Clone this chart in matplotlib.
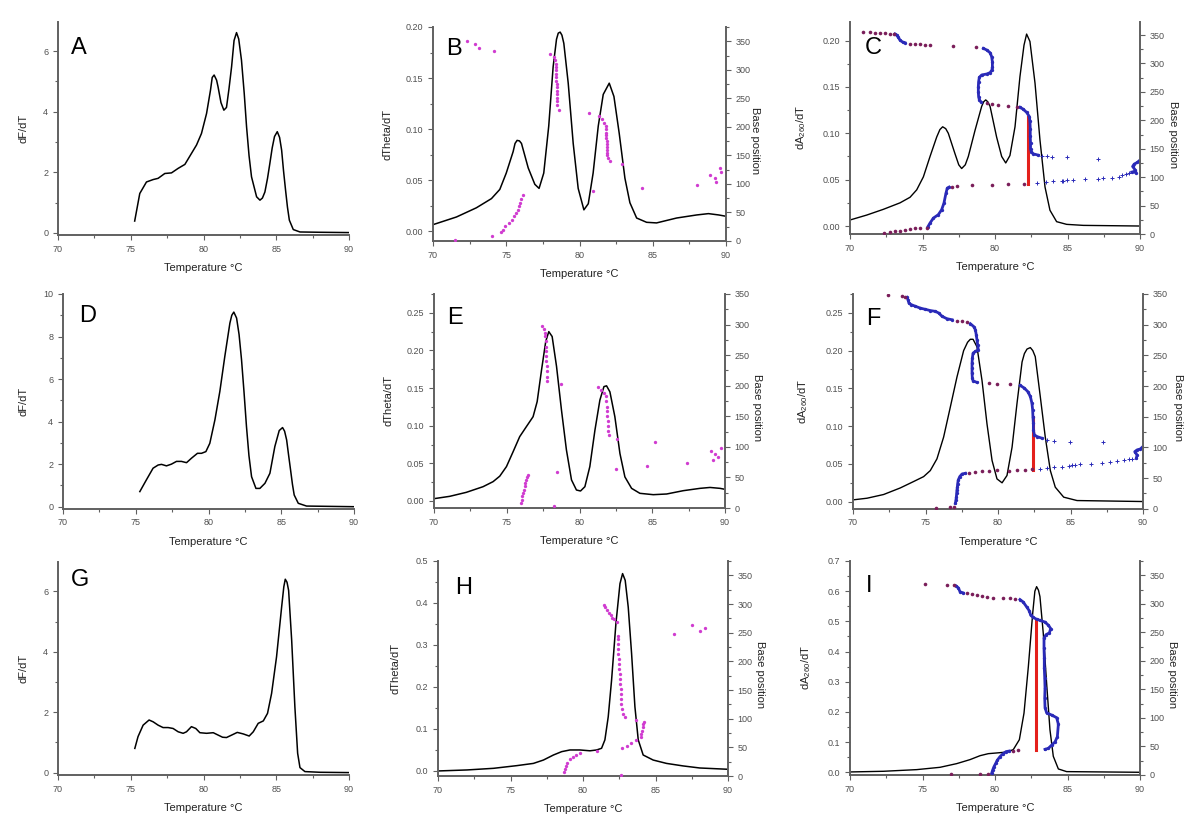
import numpy as np
import matplotlib
matplotlib.use('Agg')
import matplotlib.pyplot as plt
from matplotlib.ticker import MultipleLocator

plt.rcParams['font.family'] = ['Liberation Sans', 'DejaVu Sans']
plt.rcParams['mathtext.default'] = 'regular'

NAN = np.nan

# ---------------- panel A (dF/dT) ----------------
a_temp = [75.27, 75.62, 76.08, 76.54, 76.88, 77.34, 77.80, 78.26, 78.72, 79.17, 79.52, 79.86,
          80.21, 80.48, 80.60, 80.73, 80.90, 81.00, 81.20, 81.40, 81.58, 81.75, 81.93, 82.10,
          82.27, 82.42, 82.61, 82.80, 82.96, 83.13, 83.30, 83.65, 83.88, 84.05, 84.22, 84.40,
          84.56, 84.72, 84.88, 85.07, 85.23, 85.37, 85.50, 85.64, 85.77, 85.90, 86.17, 86.63,
          88.00, 90.00]
a_dfdt = [0.39, 1.30, 1.68, 1.76, 1.80, 1.96, 1.98, 2.13, 2.26, 2.62, 2.90, 3.28,
          3.94, 4.71, 5.13, 5.21, 5.04, 4.82, 4.30, 4.05, 4.14, 4.75, 5.48, 6.35,
          6.61, 6.40, 5.70, 4.60, 3.50, 2.55, 1.85, 1.19, 1.08, 1.15, 1.35, 1.80,
          2.29, 2.80, 3.18, 3.34, 3.15, 2.73, 2.05, 1.41, 0.85, 0.42, 0.11, 0.03,
          0.02, 0.01]

# ---------------- panel B (dTheta/dT + base position) ----------------
b_temp = [70.0, 71.6, 72.96, 73.99, 74.56, 75.0, 75.47, 75.6, 75.74, 75.9, 76.04, 76.5, 76.95,
          77.24, 77.56, 77.9, 78.2, 78.43, 78.55, 78.68, 78.8, 78.93, 79.23, 79.57, 79.91,
          80.3, 80.6, 80.93, 81.28, 81.62, 82.03, 82.35, 82.71, 83.1, 83.44, 83.9, 84.58,
          85.26, 86.63, 88.0, 88.8, 89.5, 90.0]
b_dtheta = [0.0065, 0.014, 0.023, 0.032, 0.041, 0.057, 0.078, 0.086, 0.089, 0.0885, 0.086, 0.062,
            0.046, 0.042, 0.057, 0.103, 0.161, 0.188, 0.194, 0.195, 0.192, 0.184, 0.145, 0.086,
            0.042, 0.021, 0.027, 0.057, 0.103, 0.134, 0.145, 0.132, 0.096, 0.052, 0.028, 0.013,
            0.0088, 0.0082, 0.013, 0.016, 0.0173, 0.016, 0.0147]
b_dot_temp = [71.53, 72.32, 72.89, 73.17, 74.15, 74.05, 74.65, 74.76, 74.92, 75.17, 75.38, 75.54,
              75.69, 75.79, 75.88, 75.97, 75.99, 76.17, 78.00, 78.29, 78.35, 78.37, 78.39, 78.40,
              78.41, 78.42, 78.43, 78.44, 78.44, 78.45, 78.45, 78.46, 78.47, 78.49, 78.61, 80.66,
              80.89, 81.34, 81.55, 81.69, 81.78, 81.80, 81.82, 81.83, 81.84, 81.85, 81.86, 81.87,
              81.88, 81.89, 81.90, 81.96, 82.07, 82.92, 84.28, 88.04, 88.90, 89.25, 89.29, 89.59,
              89.64]
b_dot_pos = [2, 351, 345, 339, 333, 8, 15, 20, 26, 32, 37, 43,
             49, 55, 61, 67, 73, 80, 327, 322, 317, 311, 305, 299,
             293, 287, 281, 275, 269, 263, 257, 251, 245, 239, 230, 225,
             87, 219, 213, 207, 201, 196, 190, 185, 180, 175, 170, 165,
             160, 155, 150, 145, 140, 135, 93, 99, 116, 111, 104, 128,
             121]

# ---------------- panel C (dA260/dT + base position) ----------------
c_temp = [70.0, 71.15, 72.3, 73.45, 74.14, 74.6, 75.06, 75.52, 75.98, 76.2, 76.39, 76.6, 76.78,
          77.24, 77.5, 77.7, 77.95, 78.16, 78.62, 79.08, 79.22, 79.36, 79.5, 79.66, 80.11,
          80.46, 80.74, 81.03, 81.38, 81.72, 82.0, 82.18, 82.41, 82.76, 83.1, 83.45, 83.79,
          84.25, 84.94, 86.09, 90.0]
c_da = [0.0065, 0.0118, 0.018, 0.025, 0.031, 0.039, 0.053, 0.075, 0.096, 0.104, 0.107, 0.105, 0.100,
        0.078, 0.066, 0.062, 0.066, 0.075, 0.103, 0.129, 0.134, 0.136, 0.134, 0.129, 0.096,
        0.075, 0.068, 0.076, 0.107, 0.161, 0.195, 0.207, 0.199, 0.154, 0.093, 0.042, 0.017,
        0.0047, 0.0018, 0.0007, 0.0]
c_maroon_temp = [70.87, 71.38, 71.72, 72.07, 72.41, 72.76, 73.06, 74.14, 74.48, 74.83, 75.17, 75.52,
                 77.08, 78.69, 79.43, 79.77, 80.23, 80.92, 81.49, 72.34, 72.76, 73.10, 73.45, 73.79,
                 74.14, 74.48, 74.83, 75.29, 77.01, 77.36, 78.39, 79.82, 80.92, 82.00]
c_maroon_pos = [356, 355, 354, 353.5, 353, 352, 352, 335, 334, 333.6, 333, 332,
                330.7, 329, 230.4, 229, 227, 225.6, 224, 1.75, 3.5, 4.7, 5.9, 7.6,
                8.8, 10, 10.5, 11.1, 82.5, 83.7, 85.4, 86.6, 87.8, 88.4]
c_blue_temp = [73.10, 73.22, 73.33, 73.45, 73.63, 73.79, NAN,
               79.20, 79.43, 79.66, 79.77, 79.82, 79.82, 79.79, 79.66, 79.43, 79.08, 78.92, 78.87,
               78.85, 78.85, 78.87, 78.92, 79.01, NAN,
               81.72, 81.95, 82.18, 82.37, 82.41, 82.43, 82.43, 82.45, 82.45, 82.50, 82.64, 82.99, NAN,
               75.36, 75.52, 75.75, 76.09, 76.32, 76.48, 76.62, 76.71, 76.83, NAN,
               89.43, 89.66, 89.72, 89.66, 89.49, 89.60, 89.82, 89.95]
c_blue_pos = [352, 350, 346, 341, 337.7, 336.5, NAN,
              326.6, 323.7, 319, 312, 303, 294.4, 288.5, 283.9, 281.5, 279.8, 275.7, 268,
              259.3, 250.5, 241.7, 235.9, 233, NAN,
              223, 219.5, 214, 206.6, 198, 185, 172, 160, 150, 145, 141, 138.7, NAN,
              12.3, 19.3, 28, 34, 42.7, 54.4, 72, 80.8, 82.5, NAN,
              108.9, 110, 107, 113, 118.8, 123, 126, 129]
c_plus_temp = [83.26, 83.56, 83.91, 84.94, 87.13, 82.87, 83.49, 84.02, 84.60, 84.71, 84.94, 85.36,
               86.21, 87.13, 87.47, 88.05, 88.57, 88.78, 89.03, 89.26]
c_plus_pos = [137.5, 136.4, 135.2, 134.6, 132.3, 89.5, 90.7, 92.5, 93, 93.6, 94.2, 94.8,
              96.6, 97, 97.7, 98.9, 101, 103, 104.8, 107]
c_red_temp = [82.3, 82.3]
c_red_pos = [87.8, 205.4]

# ---------------- panel D ----------------
d_temp = [75.28, 75.73, 76.19, 76.54, 76.77, 77.11, 77.45, 77.8, 78.14, 78.49, 78.83, 79.24,
          79.52, 79.82, 80.09, 80.44, 80.78, 81.12, 81.47, 81.6, 81.74, 81.93, 82.1, 82.27,
          82.44, 82.61, 82.78, 82.96, 83.26, 83.53, 83.88, 84.22, 84.56, 84.86, 85.09, 85.23,
          85.37, 85.5, 85.64, 85.77, 85.89, 86.17, 86.74, 90.0]
d_dfdt = [0.71, 1.26, 1.81, 1.96, 1.99, 1.92, 2.0, 2.13, 2.13, 2.07, 2.28, 2.51,
          2.51, 2.59, 2.98, 4.08, 5.42, 7.06, 8.63, 9.0, 9.15, 8.87, 8.1, 6.91,
          5.4, 3.77, 2.4, 1.41, 0.86, 0.86, 1.1, 1.57, 2.83, 3.58, 3.72, 3.55,
          3.14, 2.45, 1.73, 1.05, 0.55, 0.16, 0.03, 0.0]

# ---------------- panel E ----------------
e_temp = [70.0, 71.08, 72.22, 73.37, 74.06, 74.52, 74.98, 75.44, 75.89, 76.35, 76.81, 77.09,
          77.39, 77.68, 77.89, 78.12, 78.42, 78.76, 79.1, 79.45, 79.79, 80.07, 80.37, 80.71,
          81.06, 81.4, 81.68, 81.86, 82.09, 82.43, 82.78, 83.12, 83.58, 84.15, 85.07, 85.99,
          87.13, 88.28, 88.97, 89.66, 90.0]
e_dtheta = [0.0031, 0.0062, 0.0115, 0.019, 0.0257, 0.033, 0.0457, 0.0656, 0.0855, 0.0988, 0.112, 0.132,
            0.174, 0.212, 0.225, 0.2185, 0.179, 0.121, 0.068, 0.028, 0.0146, 0.0133, 0.019, 0.0457,
            0.094, 0.134, 0.152, 0.153, 0.145, 0.112, 0.063, 0.032, 0.0168, 0.0102, 0.0084, 0.0093,
            0.0137, 0.0168, 0.018, 0.0168, 0.0155]
e_dot_temp = [76.01, 76.03, 76.06, 76.10, 76.17, 76.22, 76.26, 76.31, 76.38, 76.47, 78.23, 78.42,
              77.39, 77.55, 77.61, 77.66, 77.68, 77.68, 77.71, 77.73, 77.73, 77.75, 77.75, 77.77,
              77.80, 78.71, 81.26, 81.47, 81.67, 81.79, 81.83, 81.86, 81.88, 81.90, 81.93, 81.95,
              81.97, 82.02, 82.55, 82.48, 85.18, 84.61, 87.41, 89.01, 89.15, 89.31, 89.54, 89.70]
e_dot_pos = [8.2, 13.6, 19, 24.5, 30, 35.4, 41, 46, 50.7, 54, 3.8, 59,
             298, 293, 286, 281, 272.6, 264, 256, 248, 240, 232, 223.6, 215,
             208, 202.8, 198, 193.6, 188, 182.7, 174.5, 166, 158, 150, 141.8, 133.6,
             125.4, 119, 113, 63.8, 108.5, 68, 73.6, 92.7, 78.5, 88.3, 83.4, 98]

# ---------------- panel F ----------------
f_temp = [70.0, 70.97, 72.11, 73.26, 74.18, 74.87, 75.33, 75.79, 76.25, 76.71, 77.17, 77.63,
          77.9, 78.09, 78.28, 78.55, 78.9, 79.24, 79.59, 79.93, 80.28, 80.62, 80.97, 81.31,
          81.66, 81.82, 82.0, 82.23, 82.4, 82.57, 82.92, 83.26, 83.61, 83.95, 84.53, 85.45, 90.0]
f_da = [0.0022, 0.0044, 0.0093, 0.018, 0.0265, 0.033, 0.041, 0.0566, 0.0854, 0.125, 0.165, 0.2,
        0.211, 0.215, 0.215, 0.205, 0.16, 0.103, 0.0544, 0.030, 0.0248, 0.0345, 0.072, 0.13,
        0.185, 0.196, 0.202, 0.204, 0.200, 0.192, 0.1385, 0.0854, 0.041, 0.019, 0.0058, 0.0013, 0.0]
f_maroon_temp = [72.39, 73.38, 73.61, 77.17, 77.52, 77.86, 79.36, 79.93, 80.85,
                 75.75, 76.71, 76.94, 77.98, 78.44, 78.90, 79.36, 79.93, 80.74, 81.31, 81.89, 82.34]
f_maroon_pos = [347.8, 346, 345.7, 306.5, 305.4, 303.8, 204.7, 203.6, 202.5,
                1.6, 2.2, 3.3, 58.8, 59.9, 61, 61.5, 63, 61.5, 62.6, 63.7, 64.2]
f_blue_temp = [73.72, 73.79, 73.86, 74.02, 74.30, 74.64, 74.99, 75.33, 75.68, 75.91, 76.14, 76.48, 76.83, NAN,
               78.09, 78.32, 78.44, 78.50, 78.55, 78.60, 78.64, 78.44, 78.28, 78.23, 78.21, 78.21, 78.21,
               78.23, 78.28, 78.55, NAN,
               81.54, 81.82, 82.05, 82.23, 82.34, 82.39, 82.41, 82.44, 82.44, 82.51, 82.69, 83.03, NAN,
               77.06, 77.10, 77.13, 77.15, 77.17, 77.20, 77.22, 77.26, 77.36, 77.52, 77.75, NAN,
               89.54, 89.59, 89.43, 89.59, 89.82, 89.98]
f_blue_pos = [344.6, 340.8, 335, 332.6, 330, 327, 325, 323, 321.7, 319, 313.6, 309.7, 308, NAN,
              301.6, 297, 291.8, 283.6, 275.4, 267, 259, 256.4, 253.7, 245.5, 237, 229, 221,
              212.9, 208.5, 205.8, NAN,
              200.9, 196.5, 191, 183, 172, 161, 150, 139, 128.5, 120.3, 117.6, 114.9, NAN,
              8.7, 14, 19.6, 25, 30.5, 36, 41, 46.8, 52.3, 56.6, 57.7, NAN,
              82.2, 87.6, 93, 95.8, 97.4, 101]
f_plus_temp = [83.38, 83.89, 84.99, 87.22, 82.92, 83.38, 83.89, 84.41, 84.87, 85.10, 85.33, 85.63,
               86.44, 87.17, 87.70, 88.21, 88.67, 89.01, 89.24]
f_plus_pos = [112, 110, 109.4, 108.3, 64.8, 65.9, 67.5, 68.6, 69.7, 70.8, 71.9, 73,
              73.5, 75, 76.2, 77.8, 79.5, 80.6, 81.7]
f_red_temp = [82.41, 82.41]
f_red_pos = [63, 150]

# ---------------- panel G ----------------
g_temp = [75.28, 75.5, 75.85, 76.26, 76.54, 76.88, 77.22, 77.57, 77.91, 78.26, 78.6, 78.83,
          79.17, 79.47, 79.75, 80.21, 80.67, 81.01, 81.31, 81.58, 81.93, 82.32, 82.73, 83.14,
          83.42, 83.76, 84.11, 84.4, 84.68, 85.02, 85.37, 85.52, 85.62, 85.74, 85.85, 86.06,
          86.28, 86.47, 86.63, 86.97, 88.0, 90.0]
g_dfdt = [0.80, 1.19, 1.57, 1.74, 1.68, 1.57, 1.49, 1.49, 1.46, 1.35, 1.30, 1.35,
          1.52, 1.46, 1.32, 1.30, 1.32, 1.24, 1.17, 1.16, 1.24, 1.33, 1.28, 1.21,
          1.35, 1.63, 1.71, 1.96, 2.62, 3.83, 5.48, 6.15, 6.40, 6.30, 6.03, 4.38,
          2.18, 0.64, 0.165, 0.033, 0.01, 0.0]

# ---------------- panel H ----------------
h_temp = [70.0, 72.0, 73.83, 75.44, 76.58, 77.27, 77.96, 78.53, 79.1, 79.79, 80.48, 80.94,
          81.28, 81.51, 81.74, 81.97, 82.27, 82.55, 82.73, 82.91, 83.12, 83.35, 83.58, 83.81,
          84.15, 84.84, 85.76, 86.9, 88.05, 90.0]
h_dtheta = [0.0, 0.0024, 0.0063, 0.0127, 0.018, 0.026, 0.038, 0.046, 0.05, 0.05, 0.048, 0.05,
            0.054, 0.074, 0.129, 0.216, 0.351, 0.446, 0.47, 0.454, 0.39, 0.28, 0.153, 0.074,
            0.038, 0.026, 0.018, 0.012, 0.0071, 0.004]
h_dot_temp = [78.69, 78.74, 78.81, 78.92, 79.10, 79.29, 79.52, 79.79, 80.94, 82.61, 82.71, 83.01,
              83.30, 83.65, 83.97, 84.01, 84.06, 84.11, 84.17, 84.24, 83.65, 82.89, 82.73, 82.66,
              82.64, 82.61, 82.59, 82.59, 82.57, 82.55, 82.52, 82.50, 82.48, 82.45, 82.43, 82.43,
              82.41, 82.41, 82.43, 82.32, 82.15, 82.03, 81.90, 81.78, 81.66, 81.55, 81.44,
              86.28, 87.52, 88.10, 88.39]
h_dot_pos = [7.6, 11.7, 17.5, 23.4, 29.2, 33, 36.5, 40, 43.8, 1.2, 48, 52.6,
             57.3, 62.5, 67.2, 73, 79, 84.7, 90.6, 93.5, 98, 103.4, 109, 117,
             125.7, 134.4, 143, 152, 160.7, 169.5, 178, 187, 195.8, 204.6, 213.3, 222,
             231, 239.6, 243.7, 269, 273, 276, 280, 285, 290, 294, 298,
             248.4, 263, 253, 258]

# ---------------- panel I ----------------
i_temp = [70.0, 72.3, 74.6, 76.21, 77.36, 78.28, 78.97, 79.54, 80.11, 80.8, 81.26, 81.68,
          82.0, 82.3, 82.6, 82.75, 82.87, 83.0, 83.1, 83.33, 83.56, 83.79, 84.02, 84.37,
          84.94, 90.0]
i_da = [0.0011, 0.0033, 0.0088, 0.0165, 0.0287, 0.042, 0.055, 0.0617, 0.064, 0.067, 0.075, 0.108,
        0.196, 0.35, 0.527, 0.60, 0.615, 0.603, 0.582, 0.46, 0.295, 0.141, 0.053, 0.011,
        0.0022, 0.0]
i_maroon_temp = [75.17, 76.71, 77.17, 78.09, 78.39, 78.74, 79.08, 79.43, 79.89, 80.57, 81.03, 81.38,
                 76.94, 78.97, 79.54, 81.26, 81.61]
i_maroon_pos = [334.3, 333.7, 332.6, 319, 318, 316, 314, 312, 311, 311, 310, 309,
                1.75, 1.2, 1.75, 42.6, 43.8]
i_blue_temp = [77.31, 77.47, 77.59, 77.82, NAN,
               81.72, 81.95, 82.18, 82.37, 82.46, 82.64, 82.87, 83.10, 83.45, 83.68, 83.84, 83.75,
               83.52, 83.38, 83.38, 83.40, 83.40, 83.43, 83.45, 83.43, 83.45, 83.56, 83.91, 84.25,
               84.37, 84.30, 84.14, 83.91, 83.68, 83.45, NAN,
               79.77, 79.84, 79.93, 80.05, 80.16, 80.34, 80.53, 80.76, 80.99]
i_blue_pos = [331.4, 328, 321, 319, NAN,
              307.5, 303, 294.6, 287.6, 280, 276, 273, 271, 268, 262.5, 256.7, 249,
              246, 240, 222.6, 205, 187.8, 170, 152.7, 135, 118, 109, 105, 100.5,
              89, 67, 58, 52.5, 46.7, 45, NAN,
              3, 8.75, 14.6, 20.4, 26, 32, 36.8, 41, 42]
i_red_temp = [82.83, 82.83]
i_red_pos = [43.8, 271]

temp_label = 'Temperature \u00b0C'

AXCOL = '#606060'
TXTCOL = '#222222'
MAGENTA = '#d03cd0'
MAROON = '#7a1e5a'
BLUE = '#2a2ab8'
RED = '#e4201c'

fig = plt.figure(figsize=(12, 8.31), dpi=100)


def px_axes(l, t, r, b):
    return fig.add_axes([l / 1200, 1 - b / 831, (r - l) / 1200, (b - t) / 831])


def style(ax, ylim, ymaj, ymin, ylabel, ylab_x, letter, letter_xy, twin=False):
    ax.set_xlim(70, 90)
    ax.set_ylim(*ylim)
    ax.xaxis.set_major_locator(MultipleLocator(5))
    ax.xaxis.set_minor_locator(MultipleLocator(2.5))
    ax.yaxis.set_major_locator(MultipleLocator(ymaj))
    ax.yaxis.set_minor_locator(MultipleLocator(ymin))
    ax.spines['top'].set_visible(False)
    ax.spines['right'].set_visible(False)
    for s in ['left', 'bottom']:
        ax.spines[s].set_color(AXCOL)
        ax.spines[s].set_linewidth(1.4)
    ax.tick_params(which='both', direction='out', colors=AXCOL, labelsize=6.5,
                   labelcolor='#505050', width=0.8)
    ax.tick_params(which='major', length=3.5)
    ax.tick_params(which='minor', length=2)
    ax.set_xlabel(temp_label, fontsize=8, color=TXTCOL)
    ax.xaxis.set_label_coords(0.5, -0.13)
    ax.set_ylabel(ylabel, fontsize=8, color=TXTCOL)
    ax.yaxis.set_label_coords(ylab_x, 0.5)
    ax.text(letter_xy[0], letter_xy[1], letter, transform=ax.transAxes, fontsize=17,
            va='top', ha='left', color='black')


def style_twin(ax, ylim, lab_x):
    ax2 = ax.twinx()
    ax2.set_ylim(*ylim)
    ax2.yaxis.set_major_locator(MultipleLocator(50))
    ax2.yaxis.set_minor_locator(MultipleLocator(25))
    for s in ['top', 'left', 'bottom']:
        ax2.spines[s].set_visible(False)
    ax2.spines['right'].set_color(AXCOL)
    ax2.spines['right'].set_linewidth(1.4)
    ax2.tick_params(which='both', direction='out', colors=AXCOL, labelsize=6.5,
                    labelcolor='#505050', width=0.8)
    ax2.tick_params(which='major', length=3.5)
    ax2.tick_params(which='minor', length=2)
    ax2.set_ylabel('Base position', fontsize=8, color=TXTCOL, rotation=270, va='center')
    ax2.yaxis.set_label_coords(lab_x, 0.47)
    return ax2


def dense(ax2, t, p):
    ax2.plot(t, p, '-', color=BLUE, lw=2.0)
    ax2.plot(t, p, 'o', color=BLUE, ms=2.4, mec='none')


# row 1
axA = px_axes(58, 22, 349, 235)
axA.plot(a_temp, a_dfdt, color='black', lw=1.1)
style(axA, (-0.07, 6.96), 2, 1, 'dF/dT', -0.1, 'A', (0.045, 0.93))

axB = px_axes(433, 27, 726, 241)
axB.plot(b_temp, b_dtheta, color='black', lw=1.1)
style(axB, (-0.0095, 0.2), 0.05, 0.025, 'dTheta/dT', -0.137, 'B', (0.045, 0.95))
bB = style_twin(axB, (0, 375), 1.1)
bB.plot(b_dot_temp, b_dot_pos, 'o', color=MAGENTA, ms=2.4, mec='none')

axC = px_axes(850, 22, 1140, 234)
axC.plot(c_temp, c_da, color='black', lw=1.0)
style(axC, (-0.0086, 0.22), 0.05, 0.025, 'dA$_{260}$/dT', -0.145, 'C', (0.05, 0.93))
bC = style_twin(axC, (0, 373), 1.113)
bC.plot(c_red_temp, c_red_pos, color=RED, lw=2.2)
dense(bC, c_blue_temp, c_blue_pos)
bC.plot(c_maroon_temp, c_maroon_pos, 'o', color=MAROON, ms=2.6, mec='none')
bC.plot(c_plus_temp, c_plus_pos, '+', color=BLUE, ms=3, mew=0.7)

# row 2
axD = px_axes(63, 294, 354, 508.7)
axD.plot(d_temp, d_dfdt, color='black', lw=1.1)
style(axD, (-0.094, 10), 2, 1, 'dF/dT', -0.12, 'D', (0.055, 0.95))

axE = px_axes(434, 294, 725, 508)
axE.plot(e_temp, e_dtheta, color='black', lw=1.1)
style(axE, (-0.0093, 0.275), 0.05, 0.025, 'dTheta/dT', -0.14, 'E', (0.045, 0.94))
bE = style_twin(axE, (0, 350), 1.11)
bE.plot(e_dot_temp, e_dot_pos, 'o', color=MAGENTA, ms=2.4, mec='none')

axF = px_axes(853, 294, 1143, 508.7)
axF.plot(f_temp, f_da, color='black', lw=1.0)
style(axF, (-0.0095, 0.275), 0.05, 0.025, 'dA$_{260}$/dT', -0.148, 'F', (0.044, 0.935))
bF = style_twin(axF, (0, 350), 1.12)
bF.plot(f_red_temp, f_red_pos, color=RED, lw=2.2)
dense(bF, f_blue_temp, f_blue_pos)
bF.plot(f_maroon_temp, f_maroon_pos, 'o', color=MAROON, ms=2.6, mec='none')
bF.plot(f_plus_temp, f_plus_pos, '+', color=BLUE, ms=3, mew=0.7)

# row 3
axG = px_axes(58, 562, 349, 775)
axG.plot(g_temp, g_dfdt, color='black', lw=1.1)
style(axG, (-0.08, 6.97), 2, 1, 'dF/dT', -0.103, 'G', (0.045, 0.965))

axH = px_axes(438, 561, 728, 776)
axH.plot(h_temp, h_dtheta, color='black', lw=1.1)
style(axH, (-0.012, 0.5), 0.1, 0.05, 'dTheta/dT', -0.128, 'H', (0.058, 0.925))
bH = style_twin(axH, (0, 375), 1.11)
bH.plot(h_dot_temp, h_dot_pos, 'o', color=MAGENTA, ms=2.4, mec='none')

axI = px_axes(850, 561, 1140, 775)
axI.plot(i_temp, i_da, color='black', lw=1.0)
style(axI, (-0.009, 0.7), 0.1, 0.05, 'dA$_{260}$/dT', -0.128, 'I', (0.055, 0.935))
bI = style_twin(axI, (0, 375), 1.11)
bI.plot(i_red_temp, i_red_pos, color=RED, lw=2.2)
dense(bI, i_blue_temp, i_blue_pos)
bI.plot(i_maroon_temp, i_maroon_pos, 'o', color=MAROON, ms=2.6, mec='none')

fig.savefig('out.png', dpi=100)
